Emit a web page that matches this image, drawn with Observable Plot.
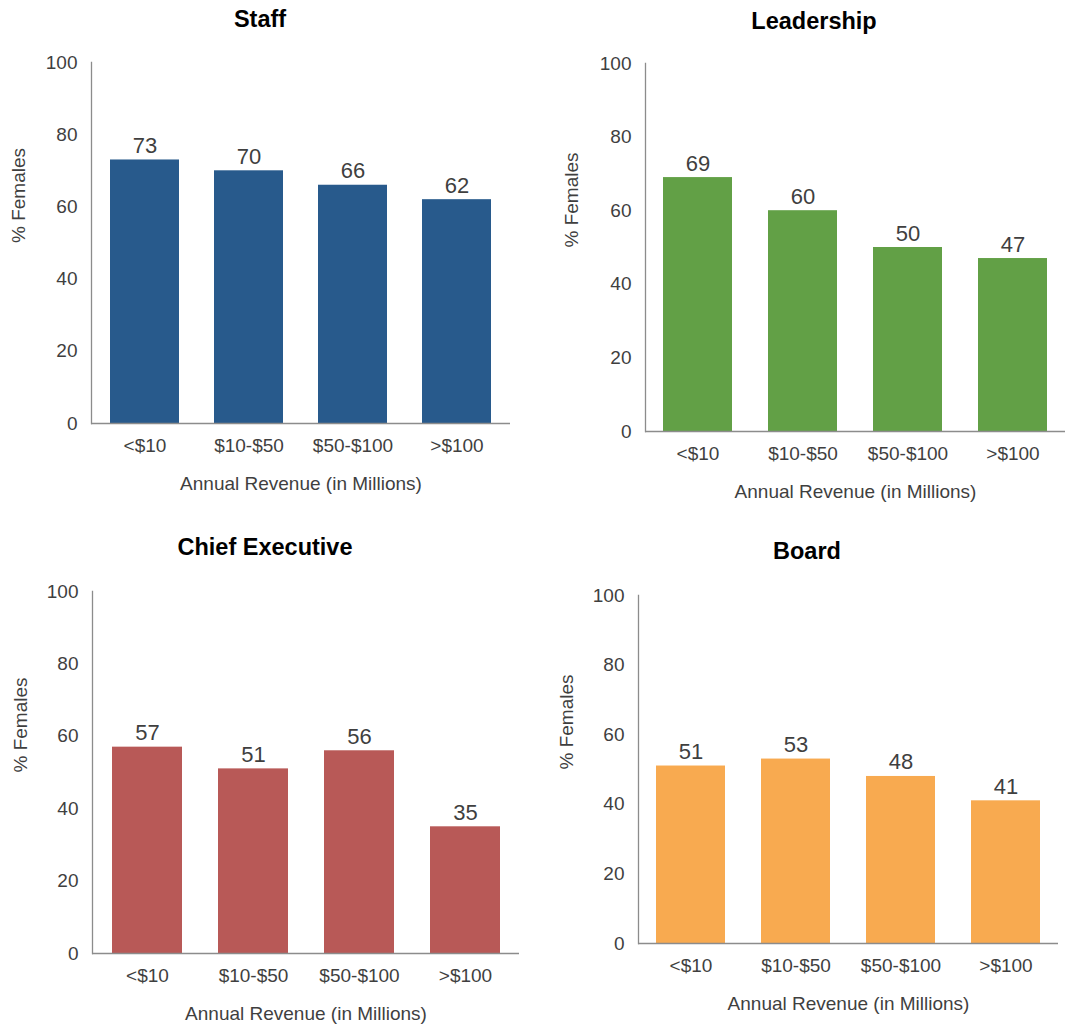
<!DOCTYPE html>
<html><head><meta charset="utf-8">
<script src="https://cdn.jsdelivr.net/npm/d3@7"></script>
<script src="https://cdn.jsdelivr.net/npm/@observablehq/plot@0.6"></script>
<style>
body{margin:0;background:#fff;font-family:"Liberation Sans",Arial,sans-serif;}
#root{position:relative;width:1068px;height:1027px;overflow:hidden;background:#fff;}
.panel{position:absolute;}
.title{position:absolute;font-weight:bold;font-size:23.5px;line-height:1;color:#000;transform:translate(-50%,-50%);white-space:nowrap;}
</style></head><body><div id="root"></div><script>
// ---- data ----
const categories = ["<$10", "$10-$50", "$50-$100", ">$100"];
const panelTitles = ["Staff", "Leadership", "Chief Executive", "Board"];
const staffValues = [73, 70, 66, 62];
const leadershipValues = [69, 60, 50, 47];
const chiefExecutiveValues = [57, 51, 56, 35];
const boardValues = [51, 53, 48, 41];
const yTicks = [0, 20, 40, 60, 80, 100];
const xAxisTitle = "Annual Revenue (in Millions)";
const yAxisTitle = "% Females";
const colors = ["#285a8c", "#62a046", "#b85957", "#f8aa50"];

// ---- layout ----
const seriesValues = [staffValues, leadershipValues, chiefExecutiveValues, boardValues];
const layout = [
  {left: 0,   top: 40,  width: 534, height: 470, mL: 91,  mR: 24, mT: 22, mB: 87, tx: 260, ty: 20,  yDx: -73},
  {left: 534, top: 40,  width: 534, height: 470, mL: 111, mR: 3,  mT: 23, mB: 79, tx: 814, ty: 22,  yDx: -74},
  {left: 0,   top: 570, width: 534, height: 457, mL: 92,  mR: 15, mT: 21, mB: 74, tx: 265, ty: 548, yDx: -72},
  {left: 534, top: 570, width: 534, height: 457, mL: 104, mR: 10, mT: 25, mB: 84, tx: 807, ty: 552, yDx: -72}
];

const root = document.getElementById("root");
const font = "'Liberation Sans', Arial, sans-serif";

layout.forEach((L, i) => {
  const data = categories.map((c, j) => ({cat: c, value: seriesValues[i][j]}));
  const plot = Plot.plot({
    width: L.width, height: L.height,
    marginLeft: L.mL, marginRight: L.mR, marginTop: L.mT, marginBottom: L.mB,
    style: {fontFamily: font, background: "transparent", color: "#3f3f3f", overflow: "visible"},
    x: {domain: categories, paddingInner: 0.34, paddingOuter: 0.17, label: null},
    y: {domain: [0, 100], label: null},
    marks: [
      Plot.barY(data, {x: "cat", y: "value", fill: colors[i]}),
      Plot.ruleY([0], {stroke: "#8c8c8c", strokeWidth: 1.3}),
      Plot.frame({anchor: "left", stroke: "#8c8c8c", strokeWidth: 1.3}),
      Plot.axisX({tickSize: 0, tickPadding: 15, fontSize: 19, label: null}),
      Plot.axisY({ticks: yTicks, tickSize: 0, tickPadding: 14, fontSize: 19, label: null}),
      Plot.text(data, {x: "cat", y: "value", text: d => String(d.value), lineAnchor: "bottom", dy: -7, fontSize: 22, fill: "#3f3f3f"}),
      Plot.text([xAxisTitle], {text: d => d, frameAnchor: "bottom", dy: 60, lineAnchor: "middle", fontSize: 19, fill: "#3f3f3f"}),
      Plot.text([yAxisTitle], {text: d => d, frameAnchor: "left", dx: L.yDx, rotate: -90, fontSize: 19, fill: "#3f3f3f"})
    ]
  });
  const wrap = document.createElement("div");
  wrap.className = "panel";
  wrap.style.left = L.left + "px";
  wrap.style.top = L.top + "px";
  wrap.appendChild(plot);
  root.appendChild(wrap);

  const t = document.createElement("div");
  t.className = "title";
  t.textContent = panelTitles[i];
  t.style.left = L.tx + "px";
  t.style.top = L.ty + "px";
  root.appendChild(t);
});
</script></body></html>
